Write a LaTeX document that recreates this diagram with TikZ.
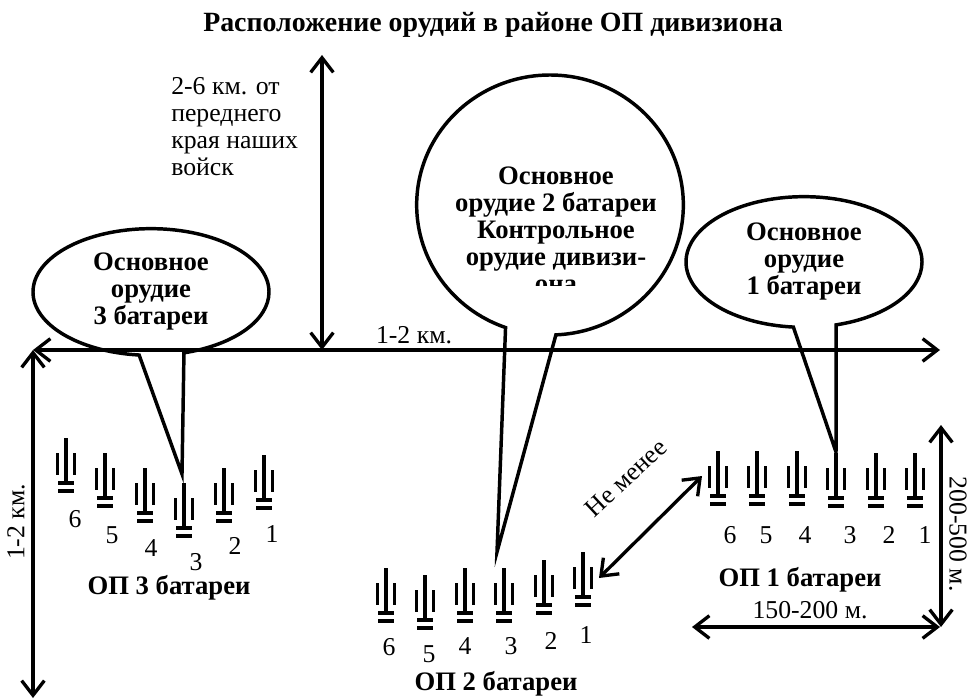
\documentclass[tikz,border=0pt]{standalone}
\usepackage{fontspec}
\setmainfont{Liberation Serif}
\usetikzlibrary{arrows.meta,shapes.callouts}
\tikzset{
  bubble/.style={ellipse callout, draw, line width=2.6pt, inner sep=0pt, align=center,
    font=\fontsize{20}{20.25}\selectfont\bfseries},
  dim/.style={line width=2.5pt, {Straight Barb[length=11pt,width=17pt,line width=2.5pt]}-{Straight Barb[length=11pt,width=17pt,line width=2.5pt]}},
  lbl/.style={inner sep=0pt, font=\fontsize{19.3}{20.25}\selectfont},
  head/.style={inner sep=0pt, font=\fontsize{20}{20.25}\selectfont\bfseries},
  gun/.pic={
    \draw[line width=2.4pt] (0,0) -- (0,46);
    \draw[line width=2.7pt] (-8.5,15) -- (-8.5,37) (8.5,15) -- (8.5,37);
    \draw[line width=2.7pt] (-8,45) -- (8,45) (-8,53) -- (8,53);
  }
}
\begin{document}
\begin{tikzpicture}[x=0.75pt,y=-0.75pt]
\useasboundingbox (0,0) rectangle (980,699);
\node[head, font=\fontsize{20.9}{22}\selectfont\bfseries] (title) at (493,25) {Расположение орудий в районе ОП дивизиона};
% callouts
\node[bubble, minimum width=177pt, minimum height=95pt, callout pointer arc=22,
  callout absolute pointer={(182,474)}] (c3) at (151,292)
  {Основное\\орудие\\3 батареи};
\node[bubble, minimum width=200pt, minimum height=195pt, callout pointer arc=22,
  callout absolute pointer={(497,552)}] (c2) at (550,205) {};
\node[bubble, minimum width=177pt, minimum height=98pt, callout pointer arc=21,
  callout absolute pointer={(836,452)}] (c1) at (804,262)
  {Основное\\орудие\\1 батареи};
\begin{scope}
\clip (417,75) rectangle (690,285);
\node[head, align=center] (c2text) at (556,230)
  {Основное\\орудие 2 батареи\\Контрольное\\орудие дивизи-\\она};
\end{scope}
% axes
\coordinate (west) at (33,350);
\coordinate (east) at (940,350);
\coordinate (front) at (322,55);
\coordinate (line) at (322,350);
\coordinate (south) at (33,698);
\coordinate (wa) at (692,627);
\coordinate (wb) at (940,627);
\coordinate (da) at (941,425);
\coordinate (db) at (941,627);
\coordinate (ga) at (599,578);
\coordinate (gb) at (702,476);
\draw[dim] (west) -- (east);
\draw[dim] (front) -- (line);
\draw[dim] (west) -- (south);
\draw[dim] (wa) -- (wb);
\draw[dim] (da) -- (db);
\draw[dim] (ga) -- (gb);
% guns
\foreach \n/\x/\y/\lx/\ly in {6/66/438/75/519, 5/105/453/112/535, 4/145/468/151/548,
  3/184/483/196/562, 2/224/468/235/546, 1/264/455/272/534}{
  \pic at (\x,\y) {gun};
  \node[lbl] (gc\n) at (\lx,\ly) {\n};
}
\foreach \n/\x/\y/\lx/\ly in {6/386/568/389/647, 5/425/575/429/654, 4/465/568/465/646,
  3/504/568/511/646, 2/544/560/551/641, 1/583/552/586/635}{
  \pic at (\x,\y) {gun};
  \node[lbl] (gb\n) at (\lx,\ly) {\n};
}
\foreach \n/\x/\y/\lx/\ly in {6/718/451/730/535, 5/757/451/766/535, 4/797/451/805/535,
  3/836/453/850/535, 2/876/453/889/535, 1/915/453/925/535}{
  \pic at (\x,\y) {gun};
  \node[lbl] (ga\n) at (\lx,\ly) {\n};
}
% labels
\node[head] (op3) at (169,588) {ОП 3 батареи};
\node[head] (op2) at (496,684) {ОП 2 батареи};
\node[head] (op1) at (800,580) {ОП 1 батареи};
\node[lbl] (dist) at (414,335) {1-2 км.};
\node[lbl, align=left, anchor=north west] (far) at (171,77)
  {2-6 км. от\\переднего\\края наших\\войск};
\node[lbl, rotate=90] (depth) at (16,522) {1-2 км.};
\node[lbl, rotate=-90] (size) at (958,534) {200-500 м.};
\node[lbl] (wide) at (810,610) {150-200 м.};
\node[lbl, rotate=43] (gap) at (626,478) {Не менее};
\end{tikzpicture}
\end{document}
